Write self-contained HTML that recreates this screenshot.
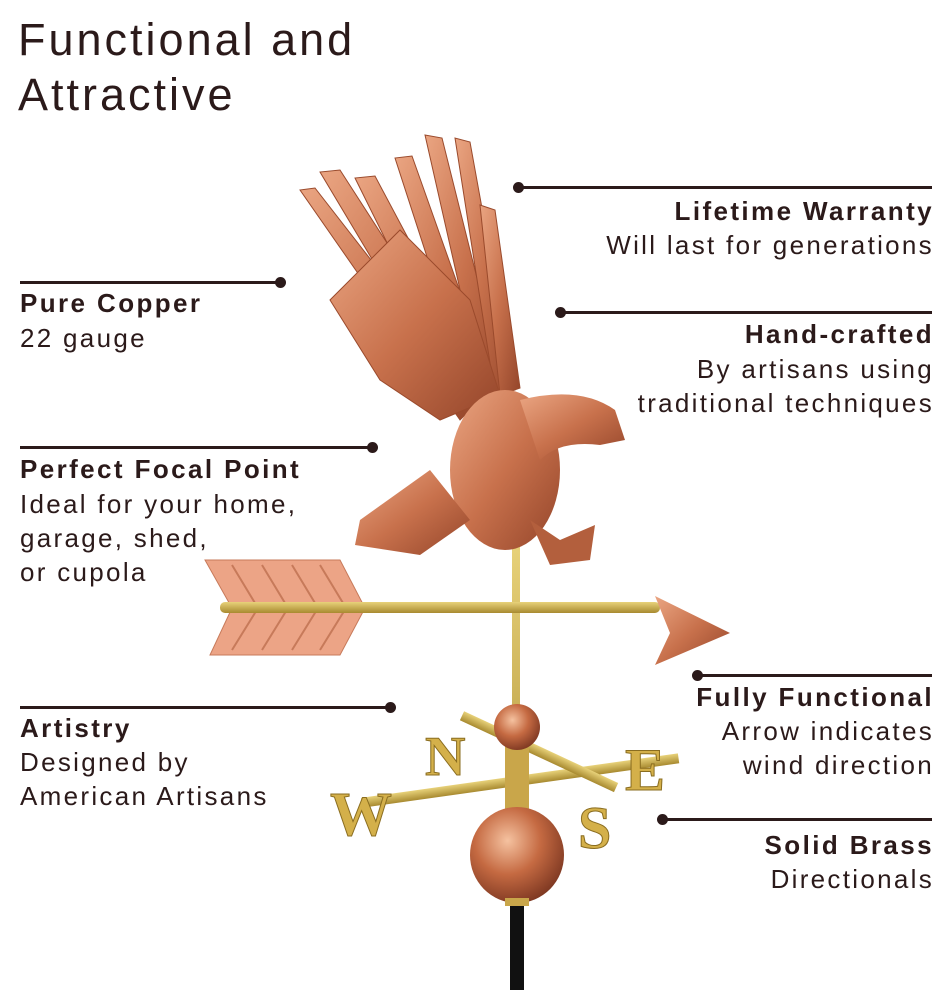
<!DOCTYPE html>
<html><head><meta charset="utf-8"><style>
html,body{margin:0;padding:0;background:#fff;}
body{width:952px;height:990px;position:relative;overflow:hidden;font-family:"Liberation Sans",sans-serif;color:#2b1a1a;}
.t{position:absolute;font-size:26px;line-height:34px;white-space:nowrap;color:#2b1a1a;letter-spacing:2.3px;}
.b{font-weight:bold;letter-spacing:2.4px;}
.r{text-align:right;right:18px;}
.ln{position:absolute;height:3px;background:#2b1a1a;}
.dot{position:absolute;width:11px;height:11px;border-radius:50%;background:#2b1a1a;}
h1{position:absolute;left:18px;top:12px;margin:0;font-weight:normal;font-size:45px;line-height:55px;color:#2b1a1a;letter-spacing:3px;}
</style></head><body>
<h1>Functional and<br>Attractive</h1>

<div class="ln" style="left:20px;top:281px;width:260px"></div><div class="dot" style="left:275px;top:277px"></div>
<div class="t b" style="left:20px;top:286px">Pure Copper</div>
<div class="t" style="left:20px;top:321px">22 gauge</div>

<div class="ln" style="left:20px;top:446px;width:352px"></div><div class="dot" style="left:367px;top:442px"></div>
<div class="t b" style="left:20px;top:452px">Perfect Focal Point</div>
<div class="t" style="left:20px;top:487px">Ideal for your home,<br>garage, shed,<br>or cupola</div>

<div class="ln" style="left:20px;top:706px;width:370px"></div><div class="dot" style="left:385px;top:702px"></div>
<div class="t b" style="left:20px;top:711px">Artistry</div>
<div class="t" style="left:20px;top:745px">Designed by<br>American Artisans</div>

<div class="ln" style="left:518px;top:186px;width:414px"></div><div class="dot" style="left:513px;top:182px"></div>
<div class="t b r" style="top:194px">Lifetime Warranty</div>
<div class="t r" style="top:228px">Will last for generations</div>

<div class="ln" style="left:560px;top:311px;width:372px"></div><div class="dot" style="left:555px;top:307px"></div>
<div class="t b r" style="top:317px">Hand-crafted</div>
<div class="t r" style="top:352px">By artisans using<br>traditional techniques</div>

<div class="ln" style="left:697px;top:674px;width:235px"></div><div class="dot" style="left:692px;top:670px"></div>
<div class="t b r" style="top:680px">Fully Functional</div>
<div class="t r" style="top:714px">Arrow indicates<br>wind direction</div>

<div class="ln" style="left:662px;top:818px;width:270px"></div><div class="dot" style="left:657px;top:814px"></div>
<div class="t b r" style="top:828px">Solid Brass</div>
<div class="t r" style="top:862px">Directionals</div>

<svg width="952" height="990" style="position:absolute;left:0;top:0">
<defs>
<linearGradient id="cu" x1="0" y1="0" x2="1" y2="1"><stop offset="0" stop-color="#eaa582"/><stop offset=".5" stop-color="#c8714c"/><stop offset="1" stop-color="#94452a"/></linearGradient>
<radialGradient id="ball" cx=".4" cy=".35" r=".7"><stop offset="0" stop-color="#f5c2a0"/><stop offset=".5" stop-color="#c56a42"/><stop offset="1" stop-color="#7a3520"/></radialGradient>
<linearGradient id="br" x1="0" y1="0" x2="0" y2="1"><stop offset="0" stop-color="#e8d27a"/><stop offset="1" stop-color="#a88a30"/></linearGradient>
</defs>
<rect x="512" y="540" width="8" height="370" fill="url(#br)"/>
<rect x="510" y="905" width="14" height="85" fill="#111"/>
<g fill="#eca486" stroke="#c77a5a" stroke-width="1">
<polygon points="205,560 340,560 365,608 340,655 210,655 232,608"/>
</g>
<g stroke="#c77a5a" stroke-width="2" fill="none">
<path d="M232,565 L258,608 L232,650"/><path d="M262,565 L288,608 L262,650"/><path d="M292,565 L318,608 L292,650"/><path d="M320,565 L346,608 L320,650"/>
</g>
<rect x="220" y="602" width="440" height="11" rx="5" fill="url(#br)"/>
<polygon points="655,596 730,633 655,665 670,633" fill="url(#cu)"/>
<!-- wings as feathers -->
<g fill="url(#cu)" stroke="#9a4a2c" stroke-width="1">
<polygon points="460,420 300,190 315,188 480,400"/>
<polygon points="465,415 320,172 340,170 485,395"/>
<polygon points="470,410 355,178 375,176 490,392"/>
<polygon points="475,405 395,158 412,156 495,390"/>
<polygon points="485,400 425,135 442,138 505,390"/>
<polygon points="495,395 455,138 470,142 515,390"/>
<polygon points="500,395 480,205 495,210 520,388"/>
<polygon points="330,300 380,380 440,420 500,395 470,300 400,230"/>
</g>
<ellipse cx="505" cy="470" rx="55" ry="80" fill="url(#cu)"/>
<path d="M520,400 Q580,385 615,410 L625,440 L600,445 Q560,440 540,460 Z" fill="url(#cu)"/>
<polygon points="430,470 360,520 355,545 420,555 470,520" fill="url(#cu)"/>
<path d="M530,520 L560,540 L595,525 L590,560 L550,565 Z" fill="#b35f3d"/>
<rect x="360" y="776" width="320" height="10" fill="url(#br)" transform="rotate(-8 517 780)"/>
<rect x="440" y="740" width="170" height="10" fill="url(#br)" transform="rotate(25 517 780)"/>
<g font-family="Liberation Serif,serif" font-weight="bold" fill="#d4b04a" stroke="#8a6d20" stroke-width="1">
<text x="330" y="835" font-size="62">W</text>
<text x="425" y="775" font-size="56">N</text>
<text x="625" y="790" font-size="60">E</text>
<text x="578" y="848" font-size="60">S</text>
</g>
<rect x="505" y="745" width="24" height="70" fill="#c9a64a"/>
<circle cx="517" cy="727" r="23" fill="url(#ball)"/>
<ellipse cx="517" cy="855" rx="47" ry="48" fill="url(#ball)"/>
<rect x="505" y="898" width="24" height="8" fill="#c9a64a"/>
</svg>
</body></html>
